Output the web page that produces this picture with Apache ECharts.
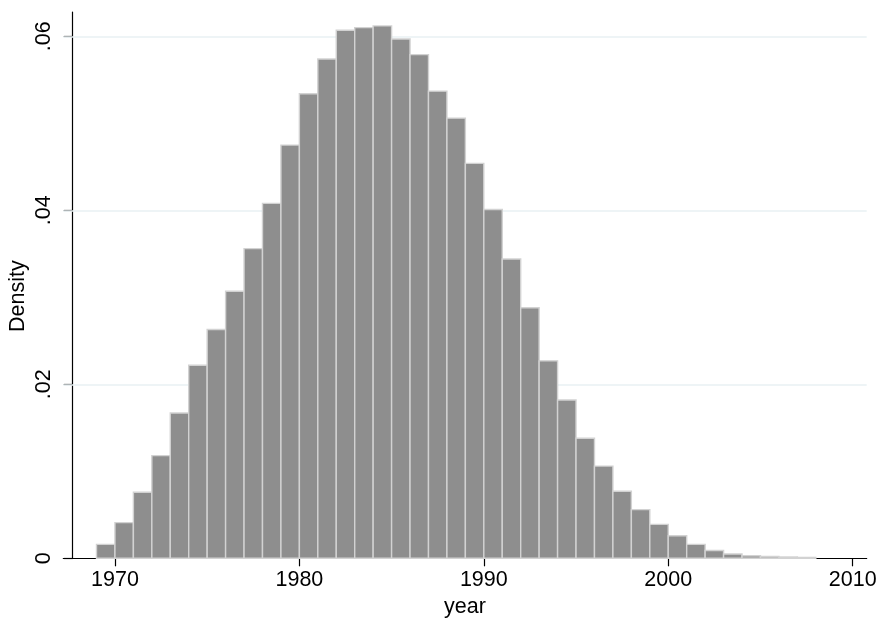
<!DOCTYPE html>
<html>
<head>
    <meta charset="UTF-8">
    <title>year histogram</title>
    <script src="https://cdn.jsdelivr.net/npm/echarts@6/dist/echarts.min.js"></script>
    <style>
        html, body { margin: 0; padding: 0; background: #ffffff; }
        #chart { width: 881px; height: 622px; }
    </style>
</head>
<body>
<div id="chart"></div>
<script type="text/javascript">
    // bins are one year wide, left edge given
    var binStart = [1969, 1970, 1971, 1972, 1973, 1974, 1975, 1976, 1977, 1978,
                    1979, 1980, 1981, 1982, 1983, 1984, 1985, 1986, 1987, 1988,
                    1989, 1990, 1991, 1992, 1993, 1994, 1995, 1996, 1997, 1998,
                    1999, 2000, 2001, 2002, 2003, 2004, 2005, 2006, 2007];
    var density = [0.0016, 0.0041, 0.0076, 0.0118, 0.0167, 0.0222, 0.0263, 0.0307, 0.0356, 0.0408,
                   0.0475, 0.0534, 0.0574, 0.0607, 0.0610, 0.0612, 0.0597, 0.0579, 0.0537, 0.0506,
                   0.0454, 0.0401, 0.0344, 0.0288, 0.0227, 0.0182, 0.0138, 0.0106, 0.0077, 0.0056,
                   0.0039, 0.0026, 0.0016, 0.0009, 0.0005, 0.0003, 0.0002, 0.00015, 0.0001];
    var xTicks = [1970, 1980, 1990, 2000, 2010];
    var yTicks = [0, 0.02, 0.04, 0.06];

    var binWidth = 1;
    var histData = [];
    for (var i = 0; i < binStart.length; i++) {
        histData.push([binStart[i], binStart[i] + binWidth, density[i]]);
    }

    var font = 'Liberation Sans, Arial, Helvetica, sans-serif';
    var chart = echarts.init(document.getElementById('chart'));

    var option = {
        animation: false,
        backgroundColor: '#ffffff',
        grid: {
            left: 63.3, right: 14.3, top: 12, bottom: 63.7,
            containLabel: false, outerBoundsMode: 'none'
        },
        xAxis: {
            type: 'value',
            min: 1967.2,
            max: 2010.76,
            name: 'year',
            nameLocation: 'middle',
            nameGap: 34,
            nameTextStyle: { color: '#000', fontFamily: font, fontSize: 21.5 },
            axisLine: { show: true, onZero: false, lineStyle: { color: '#000', width: 1.2 } },
            axisTick: { show: true, length: 8, customValues: xTicks, lineStyle: { color: '#000', width: 1.2 } },
            axisLabel: {
                customValues: xTicks, color: '#000', fontFamily: font, fontSize: 21.5, margin: 11,
                formatter: function (v) { return String(v); }
            },
            splitLine: { show: false }
        },
        yAxis: {
            type: 'value',
            min: 0,
            max: 0.0628,
            offset: -9.4,
            name: 'Density',
            nameLocation: 'middle',
            nameGap: 44,
            nameMoveOverlap: false,
            nameTextStyle: { color: '#000', fontFamily: font, fontSize: 21.5, padding: [0, 0, 0, -22] },
            axisLine: { show: true, lineStyle: { color: '#000', width: 1.2 } },
            axisTick: { show: true, length: 9, customValues: yTicks, lineStyle: { color: '#000', width: 1.2 } },
            axisLabel: {
                customValues: yTicks,
                rotate: 90,
                color: '#000',
                fontFamily: font,
                fontSize: 21.5,
                margin: 18,
                formatter: function (v) {
                    if (v === 0) return '0';
                    return String(Math.round(v * 100) / 100).replace(/^0/, '');
                }
            },
            splitLine: { show: false }
        },
        series: [
            {
                // light grid lines at the labelled y values, under the bars
                type: 'line',
                z: 1,
                data: [],
                markLine: {
                    silent: true,
                    z: 1,
                    symbol: 'none',
                    label: { show: false },
                    lineStyle: { color: '#e9f1f3', width: 1.5, type: 'solid' },
                    data: [{ yAxis: 0.02 }, { yAxis: 0.04 }, { yAxis: 0.06 }]
                }
            },
            {
                type: 'custom',
                z: 5,
                encode: { x: [0, 1], y: 2 },
                data: histData,
                renderItem: function (params, api) {
                    var p0 = api.coord([api.value(0), api.value(2)]);
                    var p1 = api.coord([api.value(1), 0]);
                    return {
                        type: 'rect',
                        shape: { x: p0[0], y: p0[1], width: p1[0] - p0[0], height: p1[1] - p0[1] },
                        style: { fill: '#8e8e8e', stroke: '#d2d2d2', lineWidth: 1.4 }
                    };
                }
            }
        ]
    };
    chart.setOption(option);
</script>
</body>
</html>
